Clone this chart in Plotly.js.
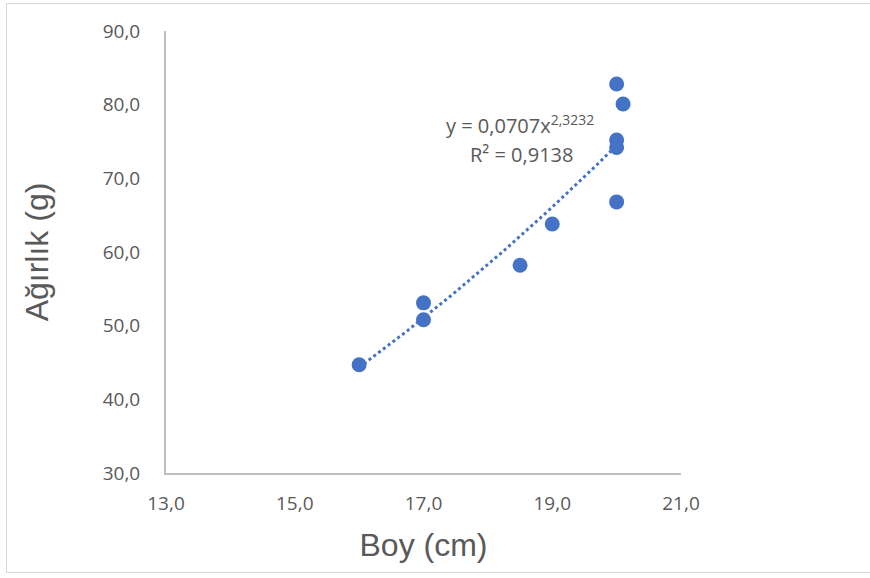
<!DOCTYPE html>
<html>
<head>
<meta charset="utf-8">
<script src="https://cdn.plot.ly/plotly-3.0.1.min.js"></script>
<style>
  html, body { margin: 0; padding: 0; overflow: hidden; background: #ffffff; }
  #chart { width: 870px; height: 578px; }
  #frame { position: absolute; left: 6px; top: 3px; width: 880px; height: 570px;
           border: 1.5px solid #d9d9d9; pointer-events: none; box-sizing: border-box; }
</style>
</head>
<body>
<div id="chart"></div>
<div id="frame"></div>
<script>
// Data
const boyCm    = [16.0, 17.0, 17.0, 18.5, 19.0, 20.0, 20.0, 20.0, 20.0, 20.1];
const agirlikG = [44.7, 53.1, 50.8, 58.2, 63.8, 66.8, 74.2, 75.2, 82.8, 80.1];

// Power trendline shown on the chart: y = a * x^b
const trendA = 0.0707;
const trendB = 2.3232;
const trendR2Text = "R² = 0,9138";
const trendEqText = "y = 0,0707x<sup>2,3232</sup>";

// Axis ticks
const xTickVals = [13, 15, 17, 19, 21];
const xTickText = ["13,0", "15,0", "17,0", "19,0", "21,0"];
const yTickVals = [30, 40, 50, 60, 70, 80, 90];
const yTickText = ["30,0", "40,0", "50,0", "60,0", "70,0", "80,0", "90,0"];

// Trendline spans the data range
const xMin = Math.min(...boyCm), xMax = Math.max(...boyCm);
const trendX = [], trendY = [];
const nSteps = 60;
for (let i = 0; i <= nSteps; i++) {
  const x = xMin + (xMax - xMin) * i / nSteps;
  trendX.push(x);
  trendY.push(trendA * Math.pow(x, trendB));
}

const blue = "#4472C4";
const gray = "#595959";

const traces = [
  {
    x: trendX, y: trendY, type: "scatter", mode: "lines",
    line: { color: blue, width: 3, dash: "dot" },
    hoverinfo: "skip", showlegend: false
  },
  {
    x: boyCm, y: agirlikG, type: "scatter", mode: "markers",
    marker: { color: blue, size: 15, line: { width: 0 } },
    showlegend: false
  }
];

const layout = {
  width: 870, height: 578,
  margin: { l: 165.5, r: 189.3, t: 31, b: 104.7 },
  paper_bgcolor: "#ffffff", plot_bgcolor: "#ffffff",
  showlegend: false,
  xaxis: {
    range: [13, 21], tickvals: xTickVals, ticktext: xTickText,
    showgrid: false, zeroline: false, showline: true,
    linecolor: "#bfbfbf", linewidth: 2, ticks: "",
    ticklabelstandoff: 12,
    tickfont: { family: "Open Sans, sans-serif", size: 19, color: gray },
    title: { text: "Boy (cm)", standoff: 19,
             font: { family: "Liberation Sans, Arial, sans-serif", size: 32, color: gray } }
  },
  yaxis: {
    range: [30, 90], tickvals: yTickVals, ticktext: yTickText,
    showgrid: false, zeroline: false, showline: true,
    linecolor: "#bfbfbf", linewidth: 2, ticks: "",
    ticklabelstandoff: 20,
    tickfont: { family: "Open Sans, sans-serif", size: 19, color: gray },
    title: { text: "Ağırlık (g)", standoff: 44,
             font: { family: "Liberation Sans, Arial, sans-serif", size: 32, color: gray } }
  },
  annotations: [
    { xref: "paper", yref: "paper", x: 0.688, y: 0.789, showarrow: false,
      xanchor: "center", yanchor: "middle", text: trendEqText,
      font: { family: "Open Sans, sans-serif", size: 20, color: gray } },
    { xref: "paper", yref: "paper", x: 0.690, y: 0.720, showarrow: false,
      xanchor: "center", yanchor: "middle", text: trendR2Text,
      font: { family: "Open Sans, sans-serif", size: 20, color: gray } }
  ]
};

Plotly.newPlot("chart", traces, layout, { displayModeBar: false, staticPlot: true });
</script>
</body>
</html>
